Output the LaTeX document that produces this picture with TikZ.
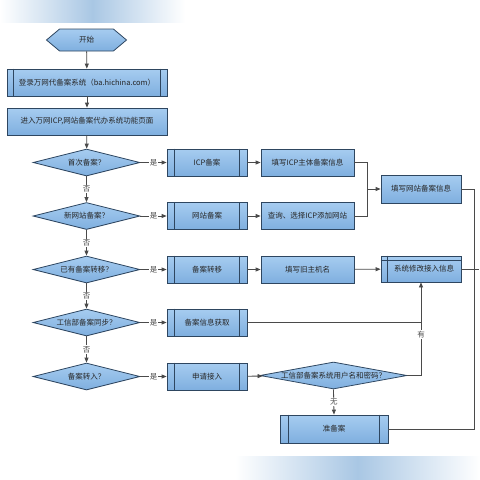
\documentclass[tikz,border=0pt]{standalone}
\usepackage{fontspec}
\setmainfont{Noto Sans CJK SC}
\usetikzlibrary{shapes.geometric,shapes.symbols,arrows.meta}
\definecolor{bfill}{HTML}{8FBCE8}
\definecolor{bfilltop}{HTML}{A6CCF0}
\definecolor{bfillbot}{HTML}{7FAFDF}
\definecolor{bdraw}{HTML}{2E4660}
\definecolor{lcol}{HTML}{4A4A4A}
\definecolor{band}{HTML}{A9C7E4}
\newcommand\dtxt[1]{\makebox[0pt]{#1}}
\begin{document}
\begin{tikzpicture}[x=1pt,y=-1pt,
  font=\fontsize{7.5}{9}\selectfont,
  base/.style={draw=bdraw,line width=0.8pt,top color=bfilltop,bottom color=bfillbot,text=black!85,inner sep=0pt},
  box/.style={base,rectangle,minimum width=80pt,minimum height=27pt},
  dia/.style={base,diamond,minimum width=107pt,minimum height=27pt},
  conn/.style={draw=lcol,line width=0.8pt},
  arr/.style={conn,-{Triangle[length=5pt,width=4pt]}},
  lab/.style={fill=white,inner sep=1pt,text=black!70,font=\fontsize{7.5}{9}\selectfont},
  inner/.style={draw=bdraw,line width=0.8pt}
]
\useasboundingbox (0,0) rectangle (480,480);
% decorative bands
\shade[left color=white,right color=white,middle color=band] (0,0) rectangle (185,22);
\shade[left color=white,right color=white,middle color=band] (235,456) rectangle (480,480);

% nodes
\node[base,signal,signal to=west and east,signal pointer angle=80,minimum width=80pt,minimum height=22pt] (start) at (86.5,40) {开始};
\node[box,minimum width=160pt] (login) at (87,82.5) {登录万网代备案系统（ba.hichina.com）};
\node[box,minimum width=160pt] (enter) at (87,121.5) {进入万网ICP,网站备案代办系统功能页面};

\node[dia] (d1) at (86.5,162.5) {\dtxt{首次备案？}};
\node[dia] (d2) at (86.5,216) {\dtxt{新网站备案？}};
\node[dia] (d3) at (86.5,269.5) {\dtxt{已有备案转移？}};
\node[dia] (d4) at (86.5,322.5) {\dtxt{工信部备案同步？}};
\node[dia] (d5) at (86.5,376.5) {\dtxt{备案转入？}};

\node[box] (icp) at (207,162.5) {ICP备案};
\node[box] (site) at (207,216) {网站备案};
\node[box] (transfer) at (207,269.5) {备案转移};
\node[box] (getinfo) at (207,322.5) {备案信息获取};
\node[box] (apply) at (207,376.5) {申请接入};

\node[box,minimum width=93pt] (fillicp) at (307.5,162.5) {填写ICP主体备案信息};
\node[box,minimum width=93pt] (query) at (307.5,216) {查询、选择ICP添加网站};
\node[box,minimum width=93pt] (oldhost) at (307.5,269.5) {填写旧主机名};

\node[box,minimum height=28pt] (fillsite) at (421,189) {填写网站备案信息};
\node[box,minimum height=26pt] (sysmod) at (421,269) {\hspace*{6pt}系统修改接入信息};

\node[dia,minimum width=147pt] (d6) at (333.5,375.5) {\dtxt{工信部备案系统用户名和密码？}};
\node[box,minimum width=108pt,minimum height=28pt] (prep) at (334,429) {准备案};

% inner lines of predefined-process boxes
\foreach \n/\o in {login/7,icp/8,site/8,transfer/8,getinfo/8,apply/8,prep/9}{
  \draw[inner] ([xshift=\o pt]\n.north west) -- ([xshift=\o pt]\n.south west)
               ([xshift=-\o pt]\n.north east) -- ([xshift=-\o pt]\n.south east);
}
% internal storage lines
\draw[inner] ([xshift=7pt]sysmod.north west) -- ([xshift=7pt]sysmod.south west);
\draw[inner] ([yshift=-5pt]sysmod.north west) -- ([yshift=-5pt]sysmod.north east);

% coordinates
\coordinate (j1) at (367,189);
\coordinate (rail) at (474,429);
\coordinate (tick) at (479,269);

% connectors
\draw[arr] (start) -- (login);
\draw[arr] (login) -- (enter);
\draw[arr] (enter) -- (d1);
\draw[arr] (d1) -- node[lab]{否} (d2);
\draw[arr] (d2) -- node[lab]{否} (d3);
\draw[arr] (d3) -- node[lab]{否} (d4);
\draw[arr] (d4) -- node[lab]{否} (d5);

\draw[arr] (d1.east) -- node[lab]{是} (icp.west);
\draw[arr] (d2.east) -- node[lab]{是} (site.west);
\draw[arr] (d3.east) -- node[lab]{是} (transfer.west);
\draw[arr] (d4.east) -- node[lab]{是} (getinfo.west);
\draw[arr] (d5.east) -- node[lab]{是} (apply.west);

\draw[arr] (icp) -- (fillicp);
\draw[arr] (site) -- (query);
\draw[arr] (transfer) -- (oldhost);
\draw[arr] (oldhost) -- (sysmod);
\draw[conn] (fillicp.east) -| (j1);
\draw[conn] (query.east) -| (j1);
\draw[arr] (j1) -- (fillsite.west);

\draw[conn] (getinfo.east) -- (getinfo.east -| sysmod.south);
\draw[arr] (d6.east) -| node[lab,pos=0.72]{有} (sysmod.south);
\draw[arr] (apply) -- (d6);
\draw[arr] (d6.south) -- node[lab]{无} (prep.north);

\draw[conn] (fillsite.east) -| (rail) -- (prep.east);
\draw[conn] (sysmod.east) -- (tick);
\end{tikzpicture}
\end{document}
